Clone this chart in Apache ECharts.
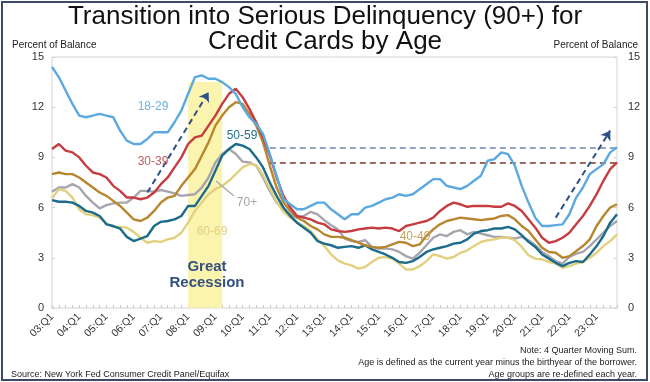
<!DOCTYPE html>
<html><head><meta charset="utf-8">
<script src="https://cdn.jsdelivr.net/npm/echarts@6/dist/echarts.min.js"></script>
<style>html,body{margin:0;padding:0;background:#fff}#c{width:650px;height:382px}</style>
</head><body><div id="c"></div>
<script>
// quarters 2003Q1..2023Q4
const years = [];
for (let y = 3; y <= 23; y++) years.push(y);
const categories = [];
years.forEach(y => { for (let q = 1; q <= 4; q++) categories.push((y < 10 ? '0' + y : '' + y) + ':Q' + q); });

const age18_29 = [14.4,13.8,13.0,12.2,11.5,11.4,11.5,11.6,11.5,11.4,10.6,10.0,9.8,9.8,10.1,10.5,10.5,10.5,11.1,11.8,12.8,13.8,13.9,13.7,13.7,13.5,13.2,12.8,12.0,11.4,11.0,10.4,9.2,7.9,6.5,6.2,5.9,5.9,6.1,6.3,6.3,5.9,5.6,5.3,5.6,5.6,6.0,6.1,6.3,6.5,6.6,6.8,6.7,6.8,7.1,7.4,7.7,7.7,7.3,7.2,7.1,7.3,7.6,7.9,8.8,8.9,9.3,9.2,8.5,7.3,6.3,5.4,4.9,4.9,4.95,5.0,5.6,6.6,7.2,8.0,8.3,8.6,9.3,9.6];
const age30_39 = [9.5,9.8,9.4,9.3,9.0,8.5,8.1,8.0,7.8,7.3,7.0,6.6,6.6,6.5,6.6,6.9,7.4,7.8,8.4,9.0,9.8,10.2,10.3,10.9,11.5,12.2,12.8,13.1,12.6,11.9,11.1,10.2,9.1,7.8,6.7,6.0,5.5,5.4,5.3,5.1,5.0,4.7,4.6,4.55,4.6,4.7,4.75,4.8,4.75,4.8,4.75,4.6,4.9,5.0,5.1,5.2,5.4,5.8,6.1,6.3,6.2,6.05,6.1,6.1,6.1,6.05,6.05,6.25,6.1,5.8,5.3,4.8,4.2,3.9,4.0,4.2,4.5,5.0,5.5,6.1,6.8,7.6,8.3,8.7];
const age40_49 = [8.0,8.1,8.0,8.0,7.8,7.5,7.2,6.9,6.7,6.4,6.1,5.7,5.3,5.2,5.4,5.8,6.3,6.6,6.7,7.3,7.8,8.3,9.1,9.9,10.9,11.5,12.0,12.3,12.2,11.6,10.9,9.9,8.5,7.2,6.3,5.8,5.4,5.2,4.9,4.7,4.4,4.25,4.25,4.2,4.05,3.9,3.75,3.65,3.6,3.65,3.8,3.95,3.9,3.7,3.8,4.3,4.7,5.0,5.2,5.3,5.4,5.35,5.3,5.25,5.3,5.35,5.5,5.55,5.3,4.9,4.6,4.1,3.6,3.35,3.3,3.0,3.1,3.4,3.7,4.1,4.9,5.5,6.0,6.2];
const age50_59 = [6.45,6.35,6.35,6.3,6.1,5.8,5.7,5.5,5.0,4.9,4.75,4.25,4.0,4.15,4.3,4.9,5.15,5.2,5.3,5.5,6.1,6.1,6.7,7.3,8.2,9.1,9.5,9.8,9.7,9.5,9.0,8.4,7.5,6.7,6.0,5.5,5.1,4.8,4.5,4.0,3.85,3.75,3.6,3.65,3.7,3.6,3.75,3.5,3.35,3.2,3.0,2.75,2.7,2.8,3.05,3.35,3.5,3.6,3.7,3.85,3.9,4.1,4.45,4.6,4.65,4.75,4.75,4.85,4.7,4.35,3.95,3.65,3.2,2.95,2.7,2.5,2.7,2.8,2.75,3.2,3.7,4.3,5.1,5.6];
const age60_69 = [6.55,7.1,7.0,6.6,5.9,5.6,5.55,5.4,5.05,4.85,4.85,4.8,4.55,4.2,3.9,4.0,3.95,4.1,4.2,4.5,5.1,5.8,6.3,6.8,7.1,7.3,7.6,8.0,8.4,8.6,8.55,7.95,7.15,6.35,5.75,5.4,5.1,4.9,4.6,4.1,3.7,3.2,2.85,2.65,2.55,2.35,2.45,2.75,3.0,3.05,2.95,2.65,2.3,2.3,2.5,2.8,3.2,3.1,2.95,3.05,3.3,3.45,3.7,3.95,4.05,4.1,4.2,4.2,4.05,3.65,3.15,2.95,2.9,2.75,2.65,2.4,2.5,2.65,2.75,3.0,3.3,3.7,4.0,4.4];
const age70plus = [6.95,7.2,7.2,7.4,7.2,6.7,6.3,5.95,6.15,6.25,6.3,6.3,6.6,7.0,7.0,6.95,7.05,6.95,6.85,6.7,6.75,6.8,7.2,7.8,8.7,9.2,9.5,9.2,8.75,8.7,8.5,7.8,7.0,6.3,5.9,5.6,5.4,5.5,5.75,5.6,5.25,4.95,4.7,4.15,4.0,3.95,4.05,3.65,3.55,3.55,3.5,3.35,3.1,2.95,3.3,3.75,4.2,4.4,4.3,4.55,4.65,4.4,4.55,4.45,4.35,4.25,4.25,4.2,4.15,4.25,4.05,3.75,3.35,3.1,2.8,2.65,3.05,3.25,3.35,3.7,4.1,4.5,4.9,5.2];

const seriesNames = ['18-29','30-39','40-49','50-59','60-69','70+'];
const seriesColors = ['#5ba9de','#c63c40','#b7862f','#1c6b8a','#e3d07f','#a7a5ad'];
const seriesData = [age18_29, age30_39, age40_49, age50_59, age60_69, age70plus];
const yTicks = [0,3,6,9,12,15];

// annotations
const recessionStart = '08:Q1', recessionEnd = '09:Q2', recessionTop = 13.5;
const level1829 = 9.6, level3039 = 8.7, levelFrom = 32;
const arrow1 = [[14, 6.9], [23, 12.9]];
const arrow2 = [[74, 5.4], [82, 10.6]];

const chart = echarts.init(document.getElementById('c'));
const font = 'Liberation Sans, Arial, sans-serif';

const series = seriesNames.map((n, k) => ({
  name: n, type: 'line', data: seriesData[k], symbol: 'none', smooth: false,
  lineStyle: { color: seriesColors[k], width: 2.4 }, itemStyle: { color: seriesColors[k] },
  z: 10 - k
}));
series[0].markArea = {
  silent: true, itemStyle: { color: '#fbf3a6', opacity: 0.9 },
  data: [[{ xAxis: recessionStart, yAxis: 0 }, { xAxis: recessionEnd, yAxis: recessionTop }]]
};
const dashNavy = { color: '#2f4f86', width: 2, type: [6, 4] };
series[0].markLine = {
  silent: true, symbol: ['none', 'none'], label: { show: false },
  data: [
    [{ coord: [levelFrom, level1829], lineStyle: { color: '#6d88b0', width: 1.5, type: [6, 4] } }, { coord: [categories.length - 1, level1829] }],
    [{ coord: [levelFrom, level3039], lineStyle: { color: '#7a3b2e', width: 1.5, type: [6, 4] } }, { coord: [categories.length - 1, level3039] }]
  ]
};
series[1].markLine = {
  silent: true, symbol: ['none', 'arrow'], symbolSize: 9, label: { show: false },
  lineStyle: dashNavy, z: 20,
  data: [
    [{ coord: arrow1[0] }, { coord: arrow1[1] }],
    [{ coord: arrow2[0] }, { coord: arrow2[1] }]
  ]
};

const T = (x, y, text, fontSpec, fill, align) => ({ type: 'text', x, y, z: 100, silent: true,
  style: { text, font: fontSpec, fill, textAlign: align || 'left' } });

chart.setOption({
  animation: false,
  backgroundColor: '#fff',
  grid: { left: 52, right: 33, top: 57, bottom: 74, show: true, borderColor: '#d4d4d4', borderWidth: 1 },
  xAxis: {
    type: 'category', data: categories, boundaryGap: false,
    axisLine: { show: false },
    axisTick: { show: true, interval: 0, length: 3, inside: true, lineStyle: { color: '#c8c8c8' } },
    axisLabel: { interval: 3, rotate: 45, fontSize: 10.5, color: '#333', fontFamily: font, margin: 7 },
    splitLine: { show: false }
  },
  yAxis: [
    { type: 'value', min: 0, max: 15, interval: 3, position: 'left',
      axisLine: { show: false }, axisTick: { show: true, inside: true, length: 3, lineStyle: { color: '#cfcfcf' } },
      axisLabel: { fontSize: 11, color: '#333', fontFamily: font, margin: 8 }, splitLine: { show: false } },
    { type: 'value', min: 0, max: 15, interval: 3, position: 'right',
      axisLine: { show: false }, axisTick: { show: true, inside: true, length: 3, lineStyle: { color: '#cfcfcf' } },
      axisLabel: { fontSize: 11, color: '#333', fontFamily: font, margin: 11 }, splitLine: { show: false } }
  ],
  series: series,
  graphic: [
    { type: 'rect', z: 100, silent: true, shape: { x: 2, y: 2, width: 645, height: 378 }, style: { fill: 'none', stroke: '#3b4a6b', lineWidth: 2 } },
    T(325, 4, 'Transition into Serious Delinquency (90+) for', '26px Liberation Sans, Arial', '#111', 'center'),
    T(325, 29, 'Credit Cards by Age', '26px Liberation Sans, Arial', '#111', 'center'),
    T(12, 40, 'Percent of Balance', '10px Liberation Sans, Arial', '#222'),
    T(638, 40, 'Percent of Balance', '10px Liberation Sans, Arial', '#222', 'right'),
    T(153, 101, '18-29', '12px Liberation Sans, Arial', '#6cb2e2', 'center'),
    T(153, 156, '30-39', '12px Liberation Sans, Arial', '#c05c5e', 'center'),
    T(242, 130, '50-59', '12px Liberation Sans, Arial', '#2a6f8c', 'center'),
    T(247, 197, '70+', '12px Liberation Sans, Arial', '#a5a3aa', 'center'),
    { type: 'line', z: 100, silent: true, shape: { x1: 216, y1: 181, x2: 234, y2: 196 }, style: { stroke: '#a5a3aa', lineWidth: 1.2 } },
    T(212, 226, '60-69', '12px Liberation Sans, Arial', '#e0cf86', 'center'),
    T(415, 231, '40-49', '12px Liberation Sans, Arial', '#c9a35c', 'center'),
    T(207, 259, 'Great', 'bold 15px Liberation Sans, Arial', '#34507f', 'center'),
    T(207, 275, 'Recession', 'bold 15px Liberation Sans, Arial', '#34507f', 'center'),
    T(637, 346, 'Note: 4 Quarter Moving Sum.', '9px Liberation Sans, Arial', '#222', 'right'),
    T(637, 358, 'Age is defined as the current year minus the birthyear of the borrower.', '9px Liberation Sans, Arial', '#222', 'right'),
    T(637, 370, 'Age groups are re-defined each year.', '9px Liberation Sans, Arial', '#222', 'right'),
    T(11, 370, 'Source: New York Fed Consumer Credit Panel/Equifax', '9px Liberation Sans, Arial', '#222')
  ]
});
</script></body></html>
